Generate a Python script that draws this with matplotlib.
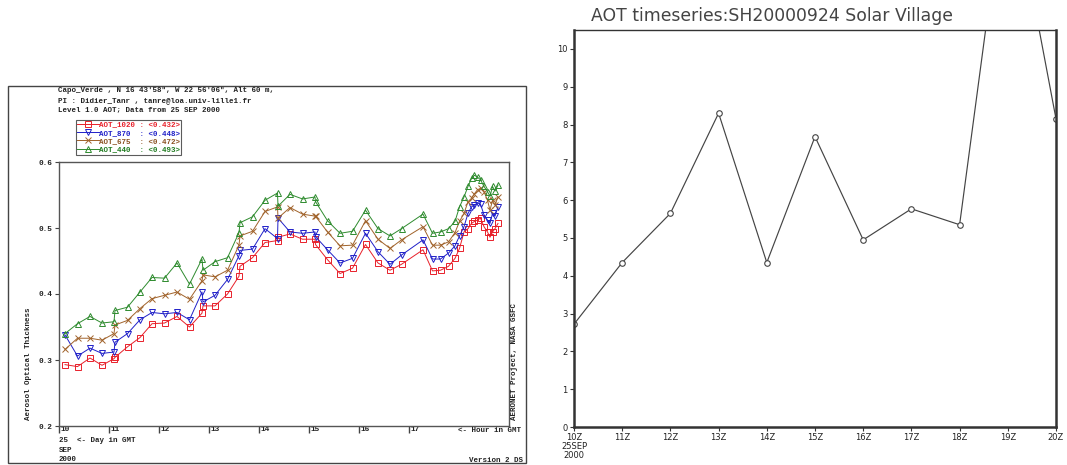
import numpy as np
import matplotlib
matplotlib.use("Agg")
import matplotlib.pyplot as plt
from matplotlib.patches import Rectangle
from matplotlib.transforms import ScaledTranslation

# ---- left panel data: AERONET Capo_Verde, 25 SEP 2000 (hour GMT) ----
hours = [10.12, 10.37, 10.62, 10.86, 11.10, 11.12, 11.37, 11.62, 11.86, 12.11,
         12.36, 12.61, 12.86, 12.88, 13.12, 13.37, 13.60, 13.62, 13.87, 14.12,
         14.37, 14.38, 14.62, 14.87, 15.12, 15.13, 15.37, 15.62, 15.87, 16.13,
         16.38, 16.62, 16.85, 17.28, 17.47, 17.63, 17.79, 17.92, 18.01, 18.10,
         18.18, 18.25, 18.31, 18.37, 18.43, 18.50, 18.57, 18.62, 18.67, 18.72,
         18.78]
aot_440 = [0.340, 0.355, 0.366, 0.356, 0.358, 0.375, 0.380, 0.403, 0.425, 0.424,
           0.447, 0.415, 0.453, 0.436, 0.449, 0.455, 0.493, 0.508, 0.517, 0.542,
           0.553, 0.533, 0.551, 0.544, 0.547, 0.540, 0.511, 0.492, 0.495, 0.527,
           0.499, 0.488, 0.499, 0.521, 0.492, 0.494, 0.499, 0.510, 0.532, 0.547,
           0.563, 0.575, 0.580, 0.577, 0.573, 0.563, 0.555, 0.548, 0.563, 0.556,
           0.565]
aot_675 = [0.316, 0.333, 0.333, 0.330, 0.340, 0.353, 0.360, 0.378, 0.393, 0.398,
           0.403, 0.392, 0.420, 0.429, 0.426, 0.436, 0.474, 0.488, 0.495, 0.525,
           0.532, 0.515, 0.531, 0.521, 0.518, 0.518, 0.494, 0.473, 0.474, 0.511,
           0.483, 0.469, 0.482, 0.502, 0.474, 0.474, 0.479, 0.493, 0.510, 0.522,
           0.540, 0.545, 0.552, 0.558, 0.560, 0.555, 0.542, 0.527, 0.542, 0.535,
           0.547]
aot_870 = [0.338, 0.306, 0.318, 0.310, 0.312, 0.327, 0.340, 0.361, 0.372, 0.370,
           0.372, 0.361, 0.403, 0.388, 0.398, 0.422, 0.458, 0.466, 0.468, 0.499,
           0.484, 0.515, 0.494, 0.492, 0.494, 0.487, 0.467, 0.447, 0.454, 0.492,
           0.464, 0.445, 0.459, 0.482, 0.453, 0.453, 0.462, 0.473, 0.488, 0.502,
           0.522, 0.532, 0.535, 0.538, 0.536, 0.520, 0.512, 0.507, 0.522, 0.518,
           0.532]
aot_1020 = [0.293, 0.290, 0.303, 0.292, 0.302, 0.304, 0.320, 0.334, 0.355, 0.356,
            0.366, 0.350, 0.371, 0.382, 0.382, 0.400, 0.427, 0.442, 0.455, 0.478,
            0.481, 0.486, 0.491, 0.483, 0.483, 0.475, 0.452, 0.431, 0.439, 0.475,
            0.447, 0.436, 0.445, 0.467, 0.435, 0.436, 0.442, 0.454, 0.469, 0.494,
            0.499, 0.507, 0.510, 0.512, 0.515, 0.502, 0.494, 0.486, 0.494, 0.499,
            0.507]
series_names = ["AOT_1020", "AOT_870", "AOT_675", "AOT_440"]
series_means = ["0.432", "0.448", "0.472", "0.493"]
hour_ticks = [10, 11, 12, 13, 14, 15, 16, 17]
aot_ticks = [0.2, 0.3, 0.4, 0.5, 0.6]

# ---- right panel data: GrADS time series, Solar Village ----
gmt_hours = [10, 11, 12, 13, 14, 15, 16, 17, 18, 19, 20]
sv_aot = [2.72, 4.35, 5.65, 8.30, 4.35, 7.68, 4.95, 5.77, 5.35, 14.9, 8.15]
sv_labels = ["10Z\n25SEP\n2000", "11Z", "12Z", "13Z", "14Z", "15Z", "16Z",
             "17Z", "18Z", "19Z", "20Z"]

W, H = 1067, 465
fig = plt.figure(figsize=(W / 100, H / 100), dpi=100)

def fx(px):
    return px / W

def fy(py):
    return 1 - py / H

mono = dict(family="Liberation Mono", weight="bold", fontsize=5.4)

# ================= left panel =================
fig.patches.append(Rectangle((fx(8), fy(463)), fx(525.5) - fx(8), fy(86) - fy(463),
                             transform=fig.transFigure, fill=False,
                             edgecolor="#444444", lw=1.0))

ax = fig.add_axes([fx(59), fy(426), fx(509) - fx(59), fy(162) - fy(426)])
styles = [
    (aot_1020, "#e8202a", "s", "#e8202a"),
    (aot_870, "#2020c8", "v", "#2020c8"),
    (aot_675, "#a0622a", "x", "#8a5020"),
    (aot_440, "#2e8b2e", "^", "#1f7a1f"),
]
handles = []
for vals, col, mk, tcol in styles:
    ln, = ax.plot(hours, vals, color=col, lw=0.7, marker=mk, markersize=4.8,
                  markerfacecolor="none", markeredgecolor=col, markeredgewidth=0.7)
    handles.append(ln)

ax.set_xlim(10, 19)
ax.set_ylim(0.2, 0.6)
for sp in ax.spines.values():
    sp.set_color("#555555")
    sp.set_linewidth(1.0)
ax.set_yticks(aot_ticks, [f"{v:.1f}" for v in aot_ticks])
ax.set_xticks(hour_ticks, [str(h) for h in hour_ticks])
ax.tick_params(axis="y", direction="out", length=3, width=0.8, color="#444444", pad=2)
ax.tick_params(axis="x", direction="out", length=5, width=1.0, color="#444444", pad=-5)
off = ScaledTranslation(1.5 / 100, 0, fig.dpi_scale_trans)
for lbl in ax.get_xticklabels():
    lbl.set_ha("left")
    lbl.set_transform(lbl.get_transform() + off)
for lbl in ax.get_xticklabels() + ax.get_yticklabels():
    lbl.set_fontfamily("Liberation Mono")
    lbl.set_fontweight("bold")
    lbl.set_fontsize(5.6)
    lbl.set_color("#222222")

labels = [f"{n:<9s}: <{m}>" for n, m in zip(series_names, series_means)]
leg = fig.legend(handles, labels, loc="upper left",
                 bbox_to_anchor=(fx(75.7), fy(120)), bbox_transform=fig.transFigure,
                 borderaxespad=0, numpoints=1, handlelength=2.9, handletextpad=0.1,
                 labelspacing=0.15, borderpad=0.15, fancybox=False,
                 prop=dict(family="Liberation Mono", weight="bold", size=5.4))
leg.get_frame().set_edgecolor("#333333")
leg.get_frame().set_linewidth(0.8)
for txt, (_, _, _, tcol) in zip(leg.get_texts(), styles):
    txt.set_color(tcol)

header = ["Capo_Verde , N 16 43'58\", W 22 56'06\", Alt 60 m,",
          "PI : Didier_Tanr , tanre@loa.univ-lille1.fr",
          "Level 1.0 AOT; Data from 25 SEP 2000"]
for i, line in enumerate(header):
    fig.text(fx(58), fy(91 + 9.5 * i), line, va="center", ha="left", color="#222222", **mono)

fig.text(fx(29), fy(364), "Aerosol Optical Thickness", rotation=90, va="center",
         ha="center", color="#222222", **mono)
fig.text(fx(515), fy(362), "AERONET Project, NASA GSFC", rotation=90, va="center",
         ha="center", color="#222222", **mono)
fig.text(fx(458), fy(430), "<- Hour in GMT", va="center", ha="left", color="#222222", **mono)
fig.text(fx(59), fy(440), "25  <- Day in GMT", va="center", ha="left", color="#222222", **mono)
fig.text(fx(59), fy(450), "SEP", va="center", ha="left", color="#222222", **mono)
fig.text(fx(59), fy(459.5), "2000", va="center", ha="left", color="#222222", **mono)
fig.text(fx(523), fy(460), "Version 2 DS", va="center", ha="right", color="#222222", **mono)

# ================= right panel =================
ax2 = fig.add_axes([fx(574), fy(427), fx(1056) - fx(574), fy(30) - fy(427)])
ax2.plot(gmt_hours, sv_aot, color="#444444", lw=0.85, marker="o", markersize=4,
         markerfacecolor="white", markeredgecolor="#444444", markeredgewidth=0.8,
         clip_on=True)
ax2.set_xlim(10, 20)
ax2.set_ylim(0, 10.5)
ax2.set_yticks(range(0, 11))
ax2.set_xticks(gmt_hours, sv_labels)
for name, sp in ax2.spines.items():
    sp.set_color("#333333")
    sp.set_linewidth(1.0 if name == "top" else 1.8)
ax2.tick_params(axis="both", direction="out", length=3, width=0.8, color="#333333",
                labelsize=6, labelcolor="#222222", pad=1.5)
for lbl in ax2.get_xticklabels():
    lbl.set_linespacing(0.95)

fig.text(fx(772), fy(16), "AOT timeseries:SH20000924 Solar Village", ha="center",
         va="center", fontsize=12.4, color="#444444", family="DejaVu Sans")

fig.savefig("out.png", dpi=100)
